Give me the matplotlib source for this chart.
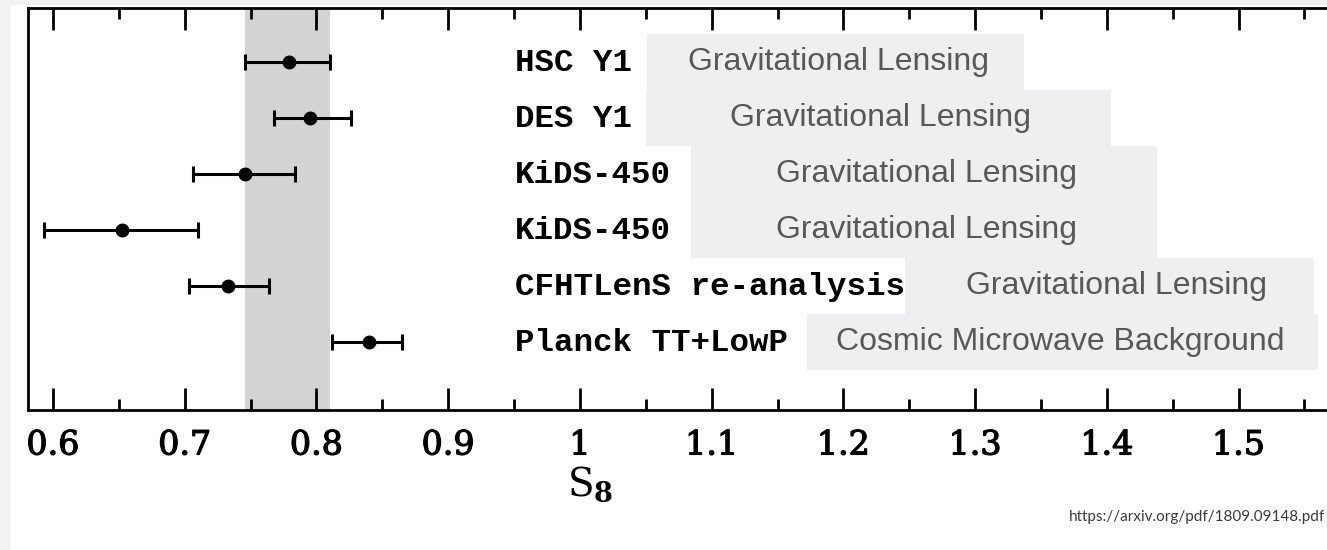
import matplotlib
matplotlib.use('Agg')

import matplotlib.pyplot as plt
import matplotlib.patheffects as pe
from matplotlib.patches import Rectangle
from matplotlib.ticker import MultipleLocator
from matplotlib.transforms import blended_transform_factory

plt.rcParams['mathtext.fontset'] = 'dejavuserif'

# survey results (S8 with asymmetric errors)
surveys = ['HSC Y1', 'DES Y1', 'KiDS-450', 'KiDS-450', 'CFHTLenS re-analysis', 'Planck TT+LowP']
s8 = [0.779, 0.795, 0.746, 0.652, 0.733, 0.840]
err_lo = [0.033, 0.027, 0.040, 0.059, 0.030, 0.028]
err_hi = [0.031, 0.031, 0.038, 0.058, 0.031, 0.025]
probes = ['Gravitational Lensing', 'Gravitational Lensing', 'Gravitational Lensing',
          'Gravitational Lensing', 'Gravitational Lensing', 'Cosmic Microwave Background']

# shaded band
band = [0.746, 0.810]

tick_vals = [0.6, 0.7, 0.8, 0.9, 1.0, 1.1, 1.2, 1.3, 1.4, 1.5]
tick_labels = ['0.6', '0.7', '0.8', '0.9', '1', '1.1', '1.2', '1.3', '1.4', '1.5']

# layout of the grey "probe" boxes (x extents in S8 units) and their text starts
box_x0 = [1.051, 1.050, 1.084, 1.084, 1.247, 1.172]
box_x1 = [1.337, 1.403, 1.438, 1.438, 1.557, 1.560]
probe_x = [1.082, 1.114, 1.149, 1.149, 1.293, 1.1945]
label_x = 0.9508

W, H = 1327, 550
fig = plt.figure(figsize=(W / 100, H / 100), dpi=100)

# faint scan border from the screenshot
fig.patches.append(Rectangle((0, 0), 11 / W, 1, transform=fig.transFigure,
                             facecolor='#f2f2f2', edgecolor='none', zorder=0))
fig.patches.append(Rectangle((0, 1 - 5 / H), 1, 5 / H, transform=fig.transFigure,
                             facecolor='#f2f2f2', edgecolor='none', zorder=0))

ax = fig.add_axes([28 / W, 140 / H, (1340 - 28) / W, 402 / H])
ax.set_facecolor('none')

rows = list(range(1, len(surveys) + 1))

ax.axvspan(band[0], band[1], color='#d3d3d3', lw=0, zorder=1)

ax.errorbar(s8, rows, xerr=[err_lo, err_hi], fmt='o', color='black',
            ms=9, elinewidth=2.2, capsize=5.8, capthick=2.2, zorder=3)

for i, r in enumerate(rows):
    ax.add_patch(Rectangle((box_x0[i], r - 0.5), box_x1[i] - box_x0[i], 1.0,
                           facecolor='#efeff1', edgecolor='none', zorder=1))
    ax.text(probe_x[i], r, probes[i], family='Liberation Sans', fontsize=23,
            color='#57585a', ha='left', va='center', zorder=2)
    ax.text(label_x, r + 0.02, surveys[i], family='Liberation Mono', weight='bold',
            fontsize=23.4, color='black', ha='left', va='center', zorder=2)

ax.set_xlim(0.581, 1.577)
ax.set_ylim(7.215, 0.036)

ax.set_xticks(tick_vals, tick_labels)
ax.xaxis.set_minor_locator(MultipleLocator(0.05))
ax.set_yticks([])
ax.tick_params(axis='x', which='both', direction='in', top=True, width=2.0,
               labelsize=24, pad=14)
ax.tick_params(axis='x', which='major', length=16)
ax.tick_params(axis='x', which='minor', length=8)
# the original digits are a bit heavier than DejaVu Serif regular
heavy = [pe.withStroke(linewidth=0.9, foreground='black')]
for lab in ax.get_xticklabels():
    lab.set_family('DejaVu Serif')
    lab.set_path_effects(heavy)

for s in ax.spines.values():
    s.set_linewidth(2.0)

# S8 label sits under the value 1, not the middle of the (cut) axis
ax.set_xlabel(r'$\mathrm{S}_{\mathbf{8}}$', fontsize=28)
ax.xaxis.set_label_coords(1.008, 1 - 484 / H,
                          transform=blended_transform_factory(ax.transData, fig.transFigure))
ax.xaxis.label.set_va('center')

fig.text(1325 / W, 1 - 517 / H, 'https://arxiv.org/pdf/1809.09148.pdf',
         family='Lato', fontsize=11, color='#3a3a3a', ha='right', va='center')

fig.savefig('out.png', dpi=100)
